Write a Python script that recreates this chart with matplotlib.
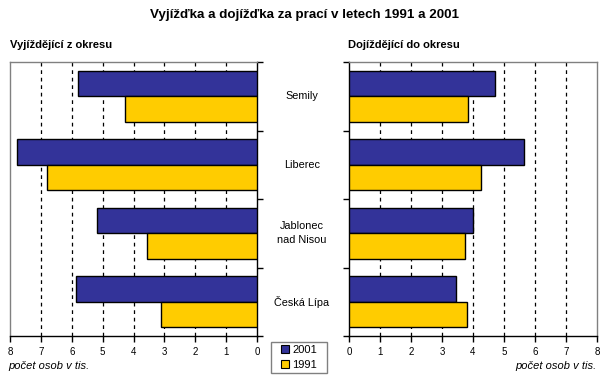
import matplotlib
matplotlib.use("Agg")
import matplotlib.pyplot as plt
import numpy as np
from matplotlib.patches import Patch, Rectangle

plt.rcParams['font.family'] = ['Liberation Sans', 'DejaVu Sans']

title = "Vyjížďka a dojížďka za prací v letech 1991 a 2001"
left_title = "Vyjíždějící z okresu"
right_title = "Dojíždějící do okresu"
categories = ["Semily", "Liberec", "Jablonec\nnad Nisou", "Česká Lípa"]
series_names = ["2001", "1991"]
out_2001 = [5.80, 7.77, 5.19, 5.87]
out_1991 = [4.26, 6.80, 3.57, 3.11]
in_2001 = [4.72, 5.66, 3.99, 3.44]
in_1991 = [3.85, 4.26, 3.73, 3.82]
xticks = [0, 1, 2, 3, 4, 5, 6, 7, 8]
xlabel = "počet osob v tis."

c2001 = "#333399"
c1991 = "#FFCC00"
grey = "#808080"

W, H = 611, 390
fig = plt.figure(figsize=(W / 100, H / 100), dpi=100)

def px_axes(x0, x1, y0, y1):
    return fig.add_axes([x0 / W, 1 - y1 / H, (x1 - x0) / W, (y1 - y0) / H])

axL = px_axes(10, 257, 62, 336)
axR = px_axes(349, 597, 62, 336)

n = len(categories)
ypos = np.arange(n)
bh = 0.375

for ax, v01, v91 in [(axL, out_2001, out_1991), (axR, in_2001, in_1991)]:
    ax.barh(ypos - bh / 2, v01, height=bh, color=c2001, edgecolor="black", linewidth=1, zorder=3)
    ax.barh(ypos + bh / 2, v91, height=bh, color=c1991, edgecolor="black", linewidth=1, zorder=3)
    ax.set_ylim(n - 0.5, -0.5)
    ax.set_xlim(0, 8)
    ax.set_xticks(xticks)
    ax.set_xticklabels([str(t) for t in xticks], fontsize=7)
    for g in xticks[1:-1]:
        ax.axvline(g, color="black", linestyle=(0, (3, 3)), linewidth=0.9, zorder=1)
    ax.set_yticks(np.arange(n + 1) - 0.5)
    ax.set_yticklabels([])
    ax.tick_params(axis="both", length=4, width=1, color="black", direction="out", pad=4)
    for s in ax.spines.values():
        s.set_linewidth(1)

axL.invert_xaxis()
axL.yaxis.tick_right()
axL.spines["left"].set_color(grey)
axL.spines["top"].set_color(grey)
axL.spines["right"].set_color("black")
axL.spines["bottom"].set_color("black")

axR.spines["right"].set_color(grey)
axR.spines["top"].set_color(grey)
axR.spines["left"].set_color("black")
axR.spines["bottom"].set_color("black")

# category labels between panels
for i, cat in enumerate(categories):
    fig.text(302 / W, 1 - (62 + (i + 0.5) * 68.5) / H, cat, ha="center", va="center",
             fontsize=7.8, linespacing=1.5)

fig.text(305 / W, 1 - 15 / H, title, ha="center", va="center", fontsize=9.6, fontweight="bold")
fig.text(10 / W, 1 - 45 / H, left_title, ha="left", va="center", fontsize=8, fontweight="bold")
fig.text(348 / W, 1 - 45 / H, right_title, ha="left", va="center", fontsize=8, fontweight="bold")

fig.text(8 / W, 1 - 366 / H, xlabel, ha="left", va="center", fontsize=8, style="italic")
fig.text(597 / W, 1 - 366 / H, xlabel, ha="right", va="center", fontsize=8, style="italic")

# legend
handles = [Patch(facecolor=c2001, edgecolor="black", linewidth=0.8),
           Patch(facecolor=c1991, edgecolor="black", linewidth=0.8)]
leg = fig.legend(handles, series_names, loc="center", bbox_to_anchor=(299 / W, 1 - 357.5 / H),
                 fontsize=8, frameon=False, handlelength=0.75, handleheight=0.75,
                 handletextpad=0.3, borderpad=0.3, labelspacing=0.5, borderaxespad=0)
fig.patches.append(Rectangle((271 / W, 1 - 373 / H), 56 / W, 31 / H, transform=fig.transFigure,
                             facecolor="none", edgecolor=grey, linewidth=1))

fig.savefig("out.png", dpi=100, facecolor="white")
